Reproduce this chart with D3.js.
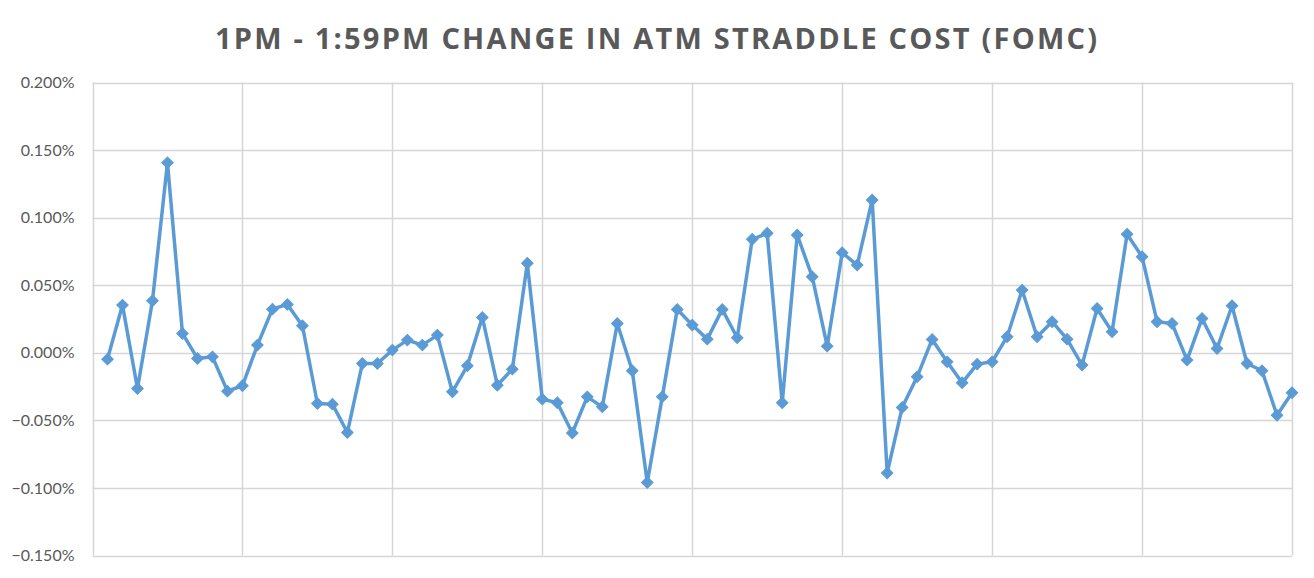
<!DOCTYPE html>
<html>
<head>
<meta charset="utf-8">
<script src="https://cdn.jsdelivr.net/npm/d3@7"></script>
<style>
  html, body { margin: 0; padding: 0; background: #fff; }
  svg { display: block; }
</style>
</head>
<body>
<svg id="chart" width="1314" height="578"></svg>
<script>
// values in percent, one per minute-ish slot (FOMC days)
const values = [
  -0.0047, 0.0353, -0.0264, 0.0385, 0.1407, 0.0143, -0.0042, -0.0030, -0.0284, -0.0244,
  0.0057, 0.0323, 0.0358, 0.0200, -0.0375, -0.0380, -0.0590, -0.0079, -0.0079, 0.0020,
  0.0094, 0.0057, 0.0131, -0.0289, -0.0096, 0.0262, -0.0240, -0.0121, 0.0662, -0.0343,
  -0.0370, -0.0593, -0.0326, -0.0400, 0.0217, -0.0133, -0.0960, -0.0326, 0.0321, 0.0205,
  0.0101, 0.0321, 0.0111, 0.0840, 0.0884, -0.0370, 0.0872, 0.0563, 0.0049, 0.0741,
  0.0649, 0.1131, -0.0889, -0.0405, -0.0178, 0.0099, -0.0067, -0.0222, -0.0084, -0.0067,
  0.0119, 0.0464, 0.0119, 0.0230, 0.0101, -0.0091, 0.0328, 0.0156, 0.0877, 0.0711,
  0.0230, 0.0217, -0.0054, 0.0254, 0.0032, 0.0348, -0.0079, -0.0133, -0.0462, -0.0296
];
const yTicks = [-0.15, -0.1, -0.05, 0, 0.05, 0.1, 0.15, 0.2];
const title = '1PM - 1:59PM CHANGE IN ATM STRADDLE COST (FOMC)';

const svg = d3.select('#chart');
const plotLeft = 92.5, plotRight = 1292, plotTop = 82.5, plotBottom = 555.5;

// category slot 0 is empty, points sit on slots 1..80
const x = d3.scaleLinear().domain([0, values.length]).range([plotLeft, plotRight]);
const y = d3.scaleLinear().domain([-0.15, 0.2]).range([plotBottom, plotTop]);

const grid = svg.append('g').attr('stroke', '#d6d6d6').attr('stroke-width', 1.5);
grid.selectAll('line.h')
  .data(yTicks)
  .join('line')
  .attr('class', 'h')
  .attr('x1', plotLeft).attr('x2', plotRight)
  .attr('y1', (d) => Math.round(y(d)) + 0.5)
  .attr('y2', (d) => Math.round(y(d)) + 0.5);
grid.selectAll('line.v')
  .data(d3.range(0, values.length + 1, 10))
  .join('line')
  .attr('class', 'v')
  .attr('x1', (d) => Math.round(x(d)) + 0.5)
  .attr('x2', (d) => Math.round(x(d)) + 0.5)
  .attr('y1', plotTop).attr('y2', plotBottom);

const yAxis = d3.axisLeft(y)
  .tickValues(yTicks)
  .tickSize(0)
  .tickPadding(18)
  .tickFormat((d) => d3.format('.3f')(d) + '%');
svg.append('g')
  .attr('transform', `translate(${plotLeft},0)`)
  .call(yAxis)
  .call((g) => g.select('.domain').remove())
  .selectAll('text')
  .attr('fill', '#595959')
  .attr('font-family', 'Lato, "Open Sans", sans-serif')
  .attr('font-size', 16);

const line = d3.line().x((d, i) => x(i + 1)).y((d) => y(d));
svg.append('path')
  .datum(values)
  .attr('d', line)
  .attr('fill', 'none')
  .attr('stroke', '#5b9bd5')
  .attr('stroke-width', 3.5)
  .attr('stroke-linejoin', 'round');

const diamond = d3.symbol().type(d3.symbolSquare).size(66);
svg.append('g')
  .selectAll('path')
  .data(values)
  .join('path')
  .attr('d', diamond)
  .attr('transform', (d, i) => `translate(${x(i + 1)},${y(d)}) rotate(45)`)
  .attr('fill', '#5b9bd5')
  .attr('stroke', '#5b9bd5')
  .attr('stroke-width', 1);

svg.append('text')
  .attr('x', 215)
  .attr('y', 48.5)
  .attr('textLength', 882)
  .attr('lengthAdjust', 'spacing')
  .attr('fill', '#595959')
  .attr('font-family', '"Open Sans", Lato, sans-serif')
  .attr('font-weight', 'bold')
  .attr('font-size', 29)
  .text(title);
</script>
</body>
</html>
